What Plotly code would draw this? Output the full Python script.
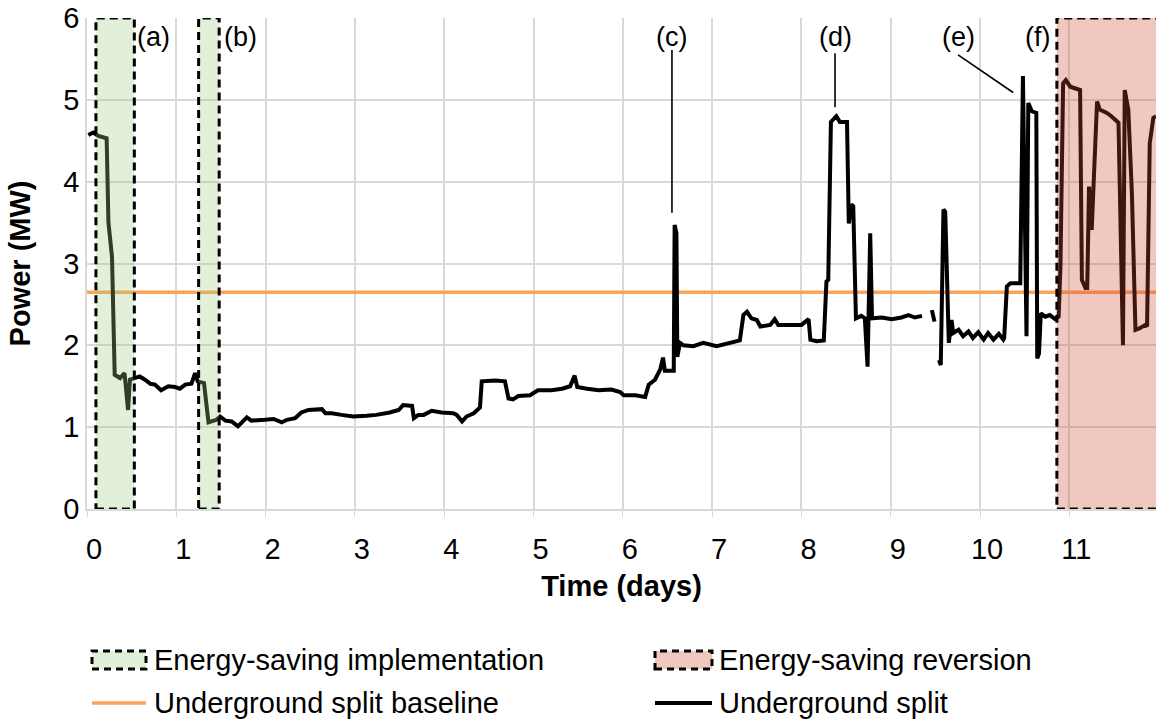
import plotly.graph_objects as go

# ---- data ----
days = [0.015, 0.07, 0.127, 0.22, 0.24, 0.28, 0.31, 0.37, 0.42, 0.46, 0.48, 0.54, 0.59, 0.65, 0.71,
        0.76, 0.83, 0.91, 0.985, 1.04, 1.10, 1.17, 1.21, 1.24, 1.31, 1.36, 1.45, 1.49, 1.55, 1.62,
        1.69, 1.79, 1.84, 1.99, 2.09, 2.18, 2.24, 2.33, 2.40, 2.48, 2.63, 2.67, 2.74, 2.85, 2.98,
        3.13, 3.24, 3.39, 3.49, 3.54, 3.64, 3.66, 3.71, 3.77, 3.86, 3.97, 4.10, 4.14, 4.20, 4.25,
        4.33, 4.40, 4.42, 4.57, 4.68, 4.72, 4.77, 4.83, 4.96, 5.05, 5.20, 5.32, 5.41, 5.46, 5.49,
        5.60, 5.73, 5.87, 5.97, 6.01, 6.14, 6.25, 6.29, 6.36, 6.42, 6.45, 6.47, 6.57, 6.58, 6.60,
        6.61, 6.64, 6.68, 6.79, 6.90, 7.05, 7.20, 7.31, 7.35, 7.39, 7.44, 7.50, 7.54, 7.65, 7.70,
        7.74, 7.87, 8.00, 8.08, 8.10, 8.17, 8.25, 8.28, 8.30, 8.33, 8.39, 8.43, 8.51, 8.53, 8.56,
        8.58, 8.61, 8.67, 8.71, 8.74, 8.77, 8.79, 8.90, 9.01, 9.12, 9.20, 9.27, 9.35, None,
        9.46, 9.49, None,
        9.54, 9.56, 9.59, 9.61, 9.65, 9.68, 9.70, 9.76, 9.81, 9.87, 9.92, 9.98, 10.04, 10.09, 10.15,
        10.21, 10.26, 10.27, 10.30, 10.34, 10.45, 10.48, 10.52, 10.54, 10.58, 10.63, 10.64, 10.66,
        10.68, 10.73, 10.78, 10.84, 10.88, 10.90, 10.93, 10.96, 11.01, 11.06, 11.12, 11.14, 11.18,
        11.20, 11.22, 11.25, 11.31, 11.34, 11.38, 11.42, 11.47, 11.51, 11.55, 11.60, 11.62, 11.66,
        11.70, 11.74, 11.79, 11.85, 11.87, 11.90, 11.94, 11.97]
power = [4.57, 4.60, 4.56, 4.53, 3.50, 3.08, 1.64, 1.60, 1.66, 1.21, 1.58, 1.60, 1.62, 1.58, 1.53,
         1.52, 1.45, 1.50, 1.49, 1.47, 1.52, 1.53, 1.66, 1.56, 1.54, 1.06, 1.09, 1.13, 1.08, 1.07,
         1.01, 1.12, 1.08, 1.09, 1.10, 1.06, 1.09, 1.11, 1.18, 1.21, 1.22, 1.17, 1.17, 1.15, 1.13,
         1.14, 1.15, 1.18, 1.21, 1.27, 1.26, 1.11, 1.15, 1.15, 1.20, 1.18, 1.17, 1.15, 1.07, 1.13,
         1.17, 1.24, 1.56, 1.57, 1.56, 1.35, 1.34, 1.38, 1.39, 1.45, 1.45, 1.47, 1.50, 1.63, 1.49,
         1.47, 1.45, 1.46, 1.43, 1.39, 1.39, 1.37, 1.52, 1.58, 1.71, 1.85, 1.69, 1.69, 3.47, 3.37,
         1.86, 2.03, 2.00, 1.99, 2.03, 1.99, 2.03, 2.06, 2.37, 2.41, 2.33, 2.31, 2.23, 2.25, 2.32,
         2.25, 2.25, 2.25, 2.32, 2.07, 2.05, 2.06, 2.78, 2.80, 4.73, 4.80, 4.73, 4.73, 3.49, 3.72,
         3.70, 2.33, 2.36, 2.33, 1.74, 3.37, 2.33, 2.34, 2.32, 2.34, 2.37, 2.34, 2.36, None,
         2.43, 2.29, None,
         1.82, 1.76, 3.66, 3.63, 2.03, 2.31, 2.15, 2.19, 2.11, 2.17, 2.09, 2.16, 2.07, 2.15, 2.07,
         2.14, 2.07, 2.09, 2.72, 2.76, 2.76, 5.29, 2.11, 4.96, 4.86, 4.84, 1.84, 1.90,
         2.39, 2.35, 2.37, 2.32, 2.35, 2.96, 5.20, 5.24, 5.16, 5.14, 5.12, 2.80, 2.70,
         2.70, 3.94, 3.41, 4.98, 4.88, 4.86, 4.84, 4.80, 4.76, 4.72, 2.00, 5.12, 4.88,
         3.86, 2.19, 2.21, 2.25, 2.23, 4.47, 4.78, 4.80]

baseline_value = 2.65
x_range = [0, 11.97]
y_range = [0, 6]

impl_windows = [(0.10, 0.53), (1.25, 1.48)]
revert_window = (10.86, 12.2)

ann_labels = ["(a)", "(b)", "(c)", "(d)", "(e)", "(f)"]
ann_text_x = [0.74, 1.72, 6.55, 8.376, 9.754, 10.64]
ann_text_y = [5.77, 5.77, 5.77, 5.77, 5.77, 5.77]

# leader lines: (tail x, tail y) -> (head x, head y)
leader_tail_x = [6.55, 8.376, 9.754]
leader_tail_y = [5.61, 5.57, 5.55]
leader_head_x = [6.55, 8.376, 10.37]
leader_head_y = [3.62, 4.91, 5.09]

legend_names = ["Energy-saving implementation", "Energy-saving reversion",
                "Underground split baseline", "Underground split"]

GREEN_FILL = "rgba(158,205,128,0.30)"
RED_FILL = "rgba(205,72,45,0.30)"
ORANGE = "#F9A35B"
GRID = "#d9d9d9"
FONT = "Liberation Sans, Arial, sans-serif"
DASH = "8px,5px"

fig = go.Figure()

fig.add_trace(go.Scatter(x=x_range, y=[baseline_value, baseline_value], mode="lines",
                         line=dict(color=ORANGE, width=3.5), name=legend_names[2],
                         showlegend=False))
fig.add_trace(go.Scatter(x=days, y=power, mode="lines", connectgaps=False,
                         line=dict(color="black", width=4), name=legend_names[3],
                         showlegend=False))

shapes = []
for a, b in impl_windows:
    shapes.append(dict(type="rect", xref="x", yref="y", x0=a, x1=b, y0=y_range[0], y1=y_range[1],
                       fillcolor=GREEN_FILL, line=dict(color="black", width=3, dash=DASH),
                       layer="above"))
shapes.append(dict(type="rect", xref="x", yref="y", x0=revert_window[0], x1=revert_window[1],
                   y0=y_range[0], y1=y_range[1], fillcolor=RED_FILL,
                   line=dict(color="black", width=3, dash=DASH), layer="above"))
for tx, ty, hx, hy in zip(leader_tail_x, leader_tail_y, leader_head_x, leader_head_y):
    shapes.append(dict(type="line", xref="x", yref="y", x0=tx, y0=ty, x1=hx, y1=hy,
                       line=dict(color="black", width=1.6), layer="above"))

# ---- legend (drawn below the plot, two columns) ----
PLOT_L, PLOT_W, PLOT_B, PLOT_H = 87, 1069, 509, 491
def px_x(p):
    return (p - PLOT_L) / PLOT_W
def px_y(p):
    return (PLOT_B - p) / PLOT_H

col_swatch = [(92, 146), (655, 712)]
col_text = [152, 717]
row_y = [660, 703]
legend_styles = [
    dict(kind="box", fill=GREEN_FILL),
    dict(kind="box", fill=RED_FILL),
    dict(kind="line", color=ORANGE, width=3.5),
    dict(kind="line", color="black", width=4),
]
annotations = []
for i, (name, st) in enumerate(zip(legend_names, legend_styles)):
    r, c = divmod(i, 2)
    x0, x1 = col_swatch[c]
    yc = row_y[r]
    if st["kind"] == "box":
        shapes.append(dict(type="rect", xref="paper", yref="paper",
                           x0=px_x(x0), x1=px_x(x1), y0=px_y(yc + 9), y1=px_y(yc - 9),
                           fillcolor=st["fill"], line=dict(color="black", width=3, dash="7px,5px")))
    else:
        shapes.append(dict(type="line", xref="paper", yref="paper",
                           x0=px_x(x0), x1=px_x(x1), y0=px_y(yc), y1=px_y(yc),
                           line=dict(color=st["color"], width=st["width"])))
    annotations.append(dict(x=px_x(col_text[c]), y=px_y(yc), xref="paper", yref="paper",
                            text=name, showarrow=False, xanchor="left", yanchor="middle",
                            font=dict(size=29, color="black")))

for lab, tx, ty in zip(ann_labels, ann_text_x, ann_text_y):
    annotations.append(dict(x=tx, y=ty, xref="x", yref="y", text=lab, showarrow=False,
                            font=dict(size=27, color="black")))

fig.update_layout(
    width=1156, height=722,
    margin=dict(l=87, r=0, t=18, b=213),
    plot_bgcolor="white", paper_bgcolor="white",
    font=dict(family=FONT, size=29, color="black"),
    shapes=shapes, annotations=annotations,
    showlegend=False,
)
fig.update_xaxes(range=x_range, tick0=0, dtick=1, showgrid=True, gridcolor=GRID, gridwidth=1.5,
                 showline=True, linecolor=GRID, linewidth=1.5, ticks="outside", ticklen=6,
                 tickcolor=GRID, zeroline=False, ticklabelstandoff=7, ticklabelshift=7,
                 title=dict(text="<b>Time (days)</b>", standoff=12, font=dict(size=29)))
fig.update_yaxes(range=y_range, tick0=0, dtick=1, showgrid=True, gridcolor=GRID, gridwidth=1.5,
                 showline=True, linecolor=GRID, linewidth=1.5, ticks="", zeroline=False,
                 title=dict(text="<b>Power (MW)</b>", standoff=24, font=dict(size=29)))

fig.write_html("out.html")
